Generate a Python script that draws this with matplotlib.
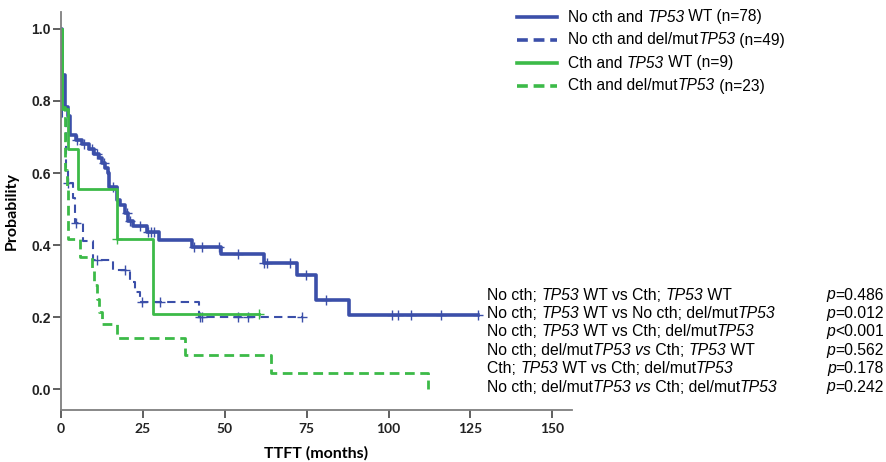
import numpy as np
import matplotlib
matplotlib.use("Agg")
import matplotlib.pyplot as plt
from matplotlib.lines import Line2D

BLUE = '#3b4fa9'
GREEN = '#3cba48'

# No cth and TP53 WT
t_nw = [0, 0.4, 1.2, 2.2, 2.8, 4.5, 6.3, 8.4, 10.0, 11.5, 12.5, 13.5, 14.2, 14.8,
        17.0, 18.0, 19.6, 20.6, 22.1, 26.2, 29.8, 40.0, 48.7, 61.9, 72.1, 77.7, 87.9]
s_nw = [1.0, 0.872, 0.783, 0.757, 0.705, 0.692, 0.680, 0.667, 0.654, 0.641, 0.628, 0.615,
        0.600, 0.562, 0.525, 0.511, 0.490, 0.467, 0.452, 0.435, 0.414, 0.395, 0.375,
        0.349, 0.317, 0.247, 0.205]
end_nw = 127.2
c_nw = [5.0, 7.0, 9.5, 11.0, 13.0, 16.0, 20.0, 21.0, 24.0, 26.5, 27.5, 28.5, 40.5, 43.0,
        48.2, 54.0, 62.0, 63.0, 70.0, 74.7, 80.8, 101.2, 103.0, 107.0, 116.0, 127.2]

# No cth and del/mut TP53
t_nm = [0, 0.3, 1.5, 2.0, 3.8, 4.2, 6.8, 9.9, 16.0, 21.0, 22.7, 24.0, 42.2]
s_nm = [1.0, 0.755, 0.612, 0.571, 0.530, 0.460, 0.410, 0.358, 0.330, 0.298, 0.270, 0.242, 0.199]
end_nm = 73.7
c_nm = [2.2, 4.6, 10.9, 19.6, 24.7, 30.1, 42.5, 43.0, 54.0, 57.0, 73.7]

# Cth and TP53 WT
t_cw = [0, 0.2, 2.0, 5.1, 17.0, 28.0]
s_cw = [1.0, 0.778, 0.667, 0.556, 0.417, 0.208]
end_cw = 60.4
c_cw = [17.0, 60.4]

# Cth and del/mut TP53
t_cm = [0, 0.2, 1.2, 1.7, 2.2, 5.8, 9.4, 10.0, 10.9, 11.5, 12.4, 17.0, 38.0, 64.0, 112.1]
s_cm = [1.0, 0.783, 0.609, 0.565, 0.416, 0.367, 0.328, 0.290, 0.250, 0.215, 0.182, 0.141,
        0.094, 0.045, 0.0]
end_cm = 112.1

# '*' toggles italic
legend_labels = ['No cth and *TP53* WT (n=78)',
                 'No cth and del/mut*TP53* (n=49)',
                 'Cth and *TP53* WT (n=9)',
                 'Cth and del/mut*TP53* (n=23)']

comparisons = ['No cth; *TP53* WT vs Cth; *TP53* WT',
               'No cth; *TP53* WT vs No cth; del/mut*TP53*',
               'No cth; *TP53* WT vs Cth; del/mut*TP53*',
               'No cth; del/mut*TP53 vs* Cth; *TP53* WT',
               'Cth; *TP53* WT vs Cth; del/mut*TP53*',
               'No cth; del/mut*TP53 vs* Cth; del/mut*TP53*']
pvals = ['*p*=0.486', '*p*=0.012', '*p*<0.001', '*p*=0.562', '*p*=0.178', '*p*=0.242']


def km(ax, t, s, end, cens, color, ls, lw):
    tt = list(t) + [end]
    ss = list(s) + [s[-1]]
    ax.step(tt, ss, where='post', color=color, ls=ls, lw=lw)
    if cens:
        idx = np.searchsorted(np.array(t), np.array(cens), side='right') - 1
        ax.plot(cens, np.array(s)[idx], ls='none', marker='+', ms=7, mew=1.0, color=color)


def rich_text(fig, x_px, y_px, markup, size, ha='left'):
    # draw text whose '*'-delimited parts are italic, placed in pixels
    renderer = fig.canvas.get_renderer()
    W, H = fig.bbox.width, fig.bbox.height
    parts = markup.split('*')
    arts, widths = [], []
    for k, p in enumerate(parts):
        if not p:
            continue
        t = fig.text(0, 1 - y_px / H, p, va='center', ha='left', family='Liberation Sans',
                     fontsize=size, style='italic' if k % 2 else 'normal')
        arts.append(t)
        widths.append(t.get_window_extent(renderer).width)
    x0 = x_px - sum(widths) if ha == 'right' else x_px
    for t, w in zip(arts, widths):
        t.set_x(x0 / W)
        x0 += w


fig = plt.figure(figsize=(8.87, 4.62), dpi=100)
ax = fig.add_axes([61 / 887, 1 - 410 / 462, (572 - 61) / 887, (410 - 12) / 462])

styles = [(BLUE, '-', 2.6), (BLUE, (0, (4, 2.5)), 1.5), (GREEN, '-', 2.0), (GREEN, (0, (3.5, 2)), 2.0)]
km(ax, t_nw, s_nw, end_nw, c_nw, *styles[0])
km(ax, t_nm, s_nm, end_nm, c_nm, *styles[1])
km(ax, t_cw, s_cw, end_cw, c_cw, *styles[2])
km(ax, t_cm, s_cm, end_cm, [], *styles[3])

ax.set_xlim(0, 156)
ax.set_ylim(-0.058, 1.047)
ax.set_xticks([0, 25, 50, 75, 100, 125, 150])
ax.set_yticks([0.0, 0.2, 0.4, 0.6, 0.8, 1.0])
ax.set_yticklabels(['0.0', '0.2', '0.4', '0.6', '0.8', '1.0'])
for sp in ['top', 'right']:
    ax.spines[sp].set_visible(False)
for sp in ['left', 'bottom']:
    ax.spines[sp].set_color('#7f7f7f')
    ax.spines[sp].set_linewidth(1.3)
ax.tick_params(direction='out', length=6, width=1.2, color='#444444')
ax.tick_params(axis='y', pad=1.5)
for lab in ax.get_xticklabels():
    lab.set_fontfamily('Lato')
    lab.set_fontweight('bold')
    lab.set_fontsize(10)
    lab.set_color('#222222')
for lab in ax.get_yticklabels():
    lab.set_fontfamily('Liberation Sans')
    lab.set_fontweight('bold')
    lab.set_fontsize(10)
    lab.set_color('#222222')
ax.set_xlabel('TTFT (months)', fontfamily='Lato', fontweight='bold', fontsize=11.5, labelpad=8)
ax.set_ylabel('Probability', fontfamily='Lato', fontweight='bold', fontsize=11.5, labelpad=9)

# legend
leg_y = [17, 40, 63, 86]
leg_dash = [None, (0, (3, 1.6)), None, (0, (3, 1.6))]
for (col, _, _), dash, lab, yy in zip(styles, leg_dash, legend_labels, leg_y):
    yf = 1 - yy / 462
    fig.add_artist(Line2D([517 / 887, 557 / 887], [yf, yf], transform=fig.transFigure,
                          color=col, lw=2.6, ls=dash if dash else '-'))
    rich_text(fig, 568, yy, lab, 11.2)

# p-values
for i, (c, p) in enumerate(zip(comparisons, pvals)):
    yy = 295 + i * 18.4
    rich_text(fig, 487, yy, c, 11.3)
    rich_text(fig, 884, yy, p, 11.3, ha='right')

fig.savefig('out.png', dpi=100)
